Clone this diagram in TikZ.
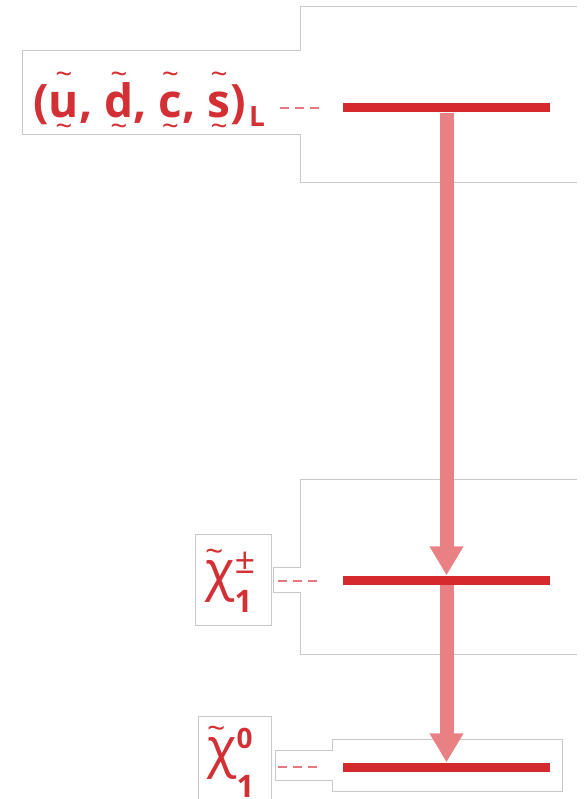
\documentclass[tikz,border=0pt]{standalone}
\usepackage{fontspec}
\setmainfont{Open Sans}
\usetikzlibrary{arrows.meta}
\definecolor{barred}{RGB}{212,42,46}
\definecolor{arrred}{RGB}{232,128,132}
\definecolor{txtred}{RGB}{210,48,52}
\definecolor{dashred}{RGB}{228,120,126}
\definecolor{edgegray}{RGB}{200,200,200}
\pgfdeclarelayer{background}
\pgfsetlayers{background,main}
\newcommand\tilt[1]{\raisebox{#1}{\fontsize{30}{30}\selectfont\mdseries\textasciitilde}}
\newcommand\tw[1]{\ooalign{#1\cr\hidewidth\tilt{33pt}\hidewidth\cr\hidewidth\tilt{-19pt}\hidewidth\cr}}
\newcommand\chit{\ooalign{\fontsize{54}{54}\selectfont χ\cr\hspace{0pt}\raisebox{27pt}{\fontsize{32}{32}\selectfont\textasciitilde}\hidewidth\cr}}
\begin{document}
\begin{tikzpicture}[x=1pt,y=-1pt,
  bar/.style={rectangle,fill=barred,draw=none,inner sep=0pt,minimum width=207pt,minimum height=9pt},
  arr/.style={draw=arrred,line width=14pt,-{Triangle[width=32pt,length=29pt]}},
  dsh/.style={draw=dashred,line width=1.3pt,dash pattern=on 9pt off 6pt},
  edge/.style={draw=edgegray,line width=0.8pt},
  lab/.style={inner sep=0pt,anchor=base west,text=txtred}]
\useasboundingbox (0,0) rectangle (583,799);
% levels
\node[bar] (b1) at (446.5,108) {};
\node[bar] (b2) at (446.5,580) {};
\node[bar] (b3) at (446.5,767) {};
% labels
\node[lab] (lq) at (33,118) {\fontsize{46}{46}\selectfont\bfseries (\tw{u}, \tw{d}, \tw{c}, \tw{s})\hspace{3pt}\raisebox{-9pt}{\fontsize{28}{28}\selectfont L}};
\node[lab] (lc) at (205,589) {\chit\rlap{\raisebox{16pt}{\fontsize{36}{36}\selectfont ±}}\raisebox{-23pt}{\fontsize{31}{31}\selectfont\bfseries 1}};
\node[lab] (ln) at (207,766) {\chit\rlap{\raisebox{18pt}{\fontsize{28}{28}\selectfont\bfseries 0}}\raisebox{-31pt}{\fontsize{31}{31}\selectfont\bfseries 1}};
% dashed leaders
\coordinate (d1a) at (280,108); \coordinate (d1b) at (322,108);
\coordinate (d2a) at (278,581); \coordinate (d2b) at (322,581);
\coordinate (d3a) at (278,767); \coordinate (d3b) at (322,767);
\draw[dsh] (d1a) -- (d1b);
\draw[dsh] (d2a) -- (d2b);
\draw[dsh] (d3a) -- (d3b);
\begin{pgfonlayer}{background}
% outlines
\draw[edge] (577,6) -- (300,6) -- (300,50) -- (22,50) -- (22,134) -- (300,134) -- (300,182) -- (577,182);
\draw[edge] (577,479) -- (300,479) -- (300,567) -- (273,567) -- (273,592) -- (300,592) -- (300,654) -- (577,654);
\draw[edge] (562,739) -- (332,739) -- (332,750) -- (275,750) -- (275,780) -- (332,780) -- (332,791) -- (562,791) -- cycle;
\draw[edge] (195,534) rectangle (271,625);
\draw[edge] (198,810) -- (198,716) -- (271,716) -- (271,810);
% transitions
\draw[arr] (b1.south) -- (b2.north);
\draw[arr] (b2.south) -- (b3.north);
\end{pgfonlayer}
\end{tikzpicture}
\end{document}
